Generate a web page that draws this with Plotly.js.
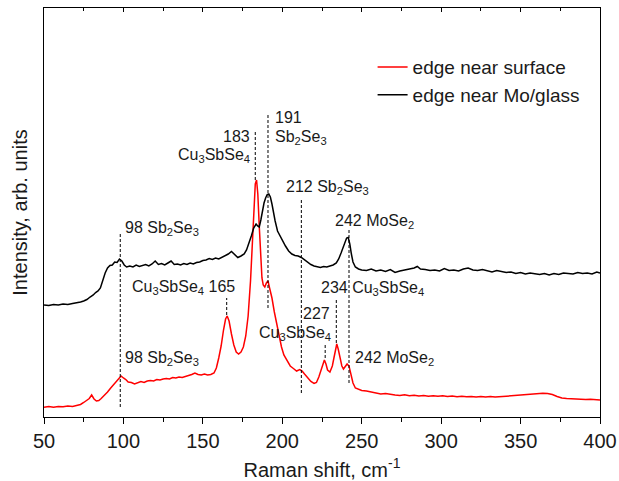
<!DOCTYPE html>
<html>
<head>
<meta charset="utf-8">
<script src="https://cdn.plot.ly/plotly-3.0.1.min.js"></script>
<style>html,body{margin:0;padding:0;background:#fff;}#chart{width:619px;height:481px;}</style>
</head>
<body>
<div id="chart"></div>
<script>
// Raman shift (cm-1) and intensity (arb. units)
const redShift = [50,53,56,59,62,65,68,71,73,75,77,78.5,80,81.5,83,84.5,86,88,90,92,94,96,97.5,98.5,100,101.5,103,105,107,109,111,113,115,117,119,121,123,125,127,129,131,133,135,137,139,141,143,145,147,149,151,153,155,157,158.5,160,161.5,163,164.3,165.3,166.5,168,169.5,171,172.5,174,175.5,177,178.5,180,181,182,183,183.8,184.6,185.5,186.3,187.2,188,189,190,191,192,193.5,195,196.5,198,199.5,201,203,205,207,209,211,212.5,214,216,218,220,221.5,223,224.5,225.5,226.5,227.5,228.5,230,231.5,232.5,233.5,234.3,235.2,236.3,237.5,238.5,239.5,240.8,242,243,244.5,246,248,250,253,256,259,262,265,268,271,274,277,280,283,286,289,292,295,298,301,304,307,310,313,316,319,322,325,328,331,334,337,340,343,346,349,352,355,358,361,364,367,370,373,376,379,382,385,388,391,394,397,400];
const redIntensity = [8.7,9.5,8.8,9.6,9.2,10.1,9.6,10.5,11.5,13.5,15.5,17.5,21,17,15,15.5,17.5,20.5,24,28,32,35.5,39,40,38,36.5,34,33.5,32,33,34.5,33.5,35,35.5,35,36.5,36,37,37.5,37,38.5,38,39,38.5,39.5,40,41.5,43,41.5,41,42,41,41.5,43,48,58,70,86,97,100,95,82,71,64,62,64,69,80,100,135,172,210,232,236,222,190,158,138,131,129,133,135,128,118,104,92,80,69,61,55,50,47.5,45,46.5,45,42,38,34.5,32.5,33.5,39,47,53,56,52,46,44,50,58,68,72,67,58,50,47,49,52,50,42,33,28,26.5,25.5,25,24,23.5,22,22.5,21.5,21,20.5,21.2,20.3,20.8,20,20.6,19.8,20.3,19.7,20.2,19.5,20,19.3,19.8,19.2,19.6,19.1,19.5,19,19.4,18.9,19.3,19.6,20,20.5,21,21.3,21.8,22,22.4,22.8,22.5,21.5,19.5,18,17.5,17.2,16.8,17.1,16.5,16.8,16.2,16];

const blackShift = [50,53,56,59,62,65,68,71,73,75,77,79,81,82.5,84,85.5,87,88.5,90,91.5,93,94.5,96,97.5,99,100.5,102,104,106,108,110,112,114,116,118,120,122,124,126,128,130,132,134,136,138,140,142,144,146,148,150,152,154,156,158,160,162,164,166,168,170,172,174,176,177.5,179,180.5,182,183.5,184.5,185.5,186.5,187.5,188.5,189.5,190.5,191.5,192.5,193.5,194.5,195.5,197,198.5,200,202,204,206,208,210,212,214,216,218,220,222,224,226,228,230,232,234,235.5,237,238.5,239.5,240.5,241.5,242.5,243.5,244.5,246,248,250,253,256,259,262,265,268,271,274,277,280,283,285,287,290,293,296,299,302,305,308,311,314,317,320,323,326,329,332,335,338,341,344,347,350,353,356,359,362,365,368,371,374,377,380,383,386,389,392,395,398,400];
const blackIntensity = [111,110.5,111.5,111,112,111.5,112.5,113,114,115,116.5,119,121,123.5,125,128,136,143,148,150.5,151,154,153.5,157,155,151,149,150,149,151,149.5,150.5,151.5,150,152,155,151.5,152.5,151,153,155,151.5,152,151,152.5,151.5,153,152,153.5,154,155.5,156,157.5,156.5,158,157,158.5,160,162,164.5,161,158.5,160,162,166,172,180,188,192,190,189,196,205,213,218,221.5,222,219,212,203,195,185,180,175.5,170,165,162,160.5,160,158.5,156,154,151.5,150,149,148.5,149.5,149,150,151,153,157,163,170,175,178,178.5,172,162,154,149,147,146,145.5,147,145,146,144.5,146.5,143.5,145,146,147,148,149.5,147,146.5,145.5,146,145,147.5,145.5,146,145,147,148,146,145.5,146.5,145,144,145.5,144.5,143.5,144,142.5,143.5,142,143,142,141.5,142.5,141,142.5,141.5,143,142.5,142,143.5,142.5,143,142,144,143];

const seriesNames = ['edge near surface', 'edge near Mo/glass'];

// marked peak positions (cm-1) and the extent of their dashed guide lines
const peakShift = [98, 165, 183, 191, 212, 227, 234, 242];
const peakLineFrom = [9, 101, 236, 108, 23, 58, 73, 33];
const peakLineTo = [183, 118, 286, 303, 217, 73, 118, 188];

const xTickVals = [50, 100, 150, 200, 250, 300, 350, 400];

const labelFont = {family: 'Arial, "Liberation Sans", sans-serif', size: 16, color: '#1a1a1a'};
function lab(x, y, text, anchor) {
  return {x: x, y: y, xref: 'x', yref: 'y', text: text, showarrow: false,
          xanchor: anchor, yanchor: 'middle', font: labelFont};
}
const annotations = [
  lab(99.6, 188, '98 Sb<sub>2</sub>Se<sub>3</sub>', 'left'),
  lab(104, 129, 'Cu<sub>3</sub>SbSe<sub>4</sub> 165', 'left'),
  lab(99.6, 57.7, '98 Sb<sub>2</sub>Se<sub>3</sub>', 'left'),
  lab(181, 280, '183', 'right'),
  lab(181, 261, 'Cu<sub>3</sub>SbSe<sub>4</sub>', 'right'),
  lab(194.2, 299, '191', 'left'),
  lab(194.2, 279, 'Sb<sub>2</sub>Se<sub>3</sub>', 'left'),
  lab(200.9, 228.7, '212 Sb<sub>2</sub>Se<sub>3</sub>', 'left'),
  lab(231.9, 194.3, '242 MoSe<sub>2</sub>', 'left'),
  lab(223.2, 127.7, '234 Cu<sub>3</sub>SbSe<sub>4</sub>', 'left'),
  lab(231.4, 102.7, '227', 'right'),
  lab(231.9, 82.7, 'Cu<sub>3</sub>SbSe<sub>4</sub>', 'right'),
  lab(244.8, 57.7, '242 MoSe<sub>2</sub>', 'left')
];

const shapes = peakShift.map((p, i) => ({
  type: 'line', xref: 'x', yref: 'y', x0: p, x1: p, y0: peakLineFrom[i], y1: peakLineTo[i],
  line: {color: '#000', width: 1, dash: '3px,2px'}
}));

const traces = [
  {x: redShift, y: redIntensity, type: 'scatter', mode: 'lines', name: seriesNames[0],
   line: {color: '#ff0000', width: 1.5}},
  {x: blackShift, y: blackIntensity, type: 'scatter', mode: 'lines', name: seriesNames[1],
   line: {color: '#000000', width: 1.5}},
  {x: [50], y: [0], xaxis: 'x2', type: 'scatter', mode: 'none', showlegend: false, hoverinfo: 'skip'}
];

const font = {family: 'Arial, "Liberation Sans", sans-serif', color: '#1a1a1a'};
const layout = {
  width: 619, height: 481,
  margin: {l: 44, r: 19, t: 8, b: 64},
  paper_bgcolor: '#fff', plot_bgcolor: '#fff',
  font: font,
  showlegend: true,
  legend: {x: 0.591, y: 0.902, xanchor: 'left', yanchor: 'top', bgcolor: 'rgba(0,0,0,0)',
           font: {size: 19, family: font.family, color: '#1a1a1a'}},
  xaxis: {
    range: [50, 400], tickvals: xTickVals, ticks: 'outside', ticklen: 6, tickwidth: 1, tickcolor: '#000',
    showline: true, linecolor: '#000', linewidth: 1, mirror: true, showgrid: false, zeroline: false,
    tickfont: {size: 20, family: font.family, color: '#1a1a1a'},
    minor: {dtick: 25, tick0: 25, ticks: 'outside', ticklen: 4, tickcolor: '#000', showgrid: false},
    title: {text: 'Raman shift, cm<sup>-1</sup>', font: {size: 20, family: font.family, color: '#1a1a1a'}, standoff: 11}
  },
  xaxis2: {
    overlaying: 'x', matches: 'x', side: 'top', range: [50, 400], tickvals: xTickVals,
    ticks: 'inside', ticklen: 4, tickcolor: '#000', showticklabels: false, showgrid: false, zeroline: false,
    minor: {dtick: 25, tick0: 25, ticks: 'inside', ticklen: 3, tickcolor: '#000', showgrid: false}
  },
  yaxis: {
    range: [-1, 408], showticklabels: false, ticks: '', showgrid: false, zeroline: false,
    showline: true, linecolor: '#000', linewidth: 1, mirror: true,
    title: {text: 'Intensity, arb. units', font: {size: 20, family: font.family, color: '#1a1a1a'}, standoff: 10}
  },
  shapes: shapes,
  annotations: annotations
};

Plotly.newPlot('chart', traces, layout, {staticPlot: true, displayModeBar: false});
</script>
</body>
</html>
